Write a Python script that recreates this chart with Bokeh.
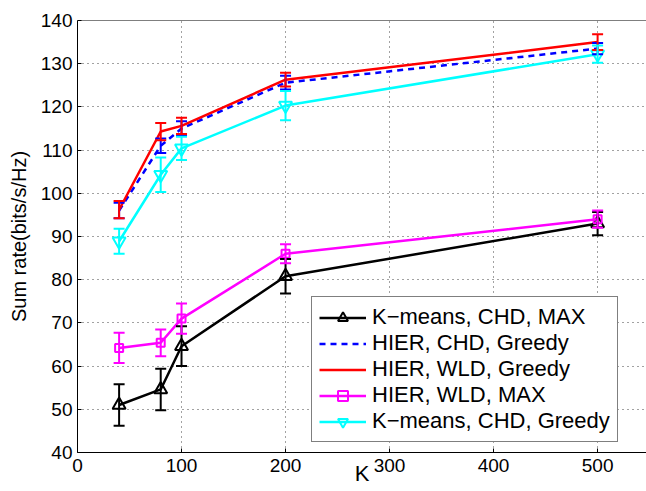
from bokeh.plotting import figure
from bokeh.models import (ColumnDataSource, Whisker, TeeHead, Legend, LegendItem,
                          FixedTicker, Span)
from bokeh.embed import file_html
from bokeh.resources import INLINE

# ---- data ----
K = [40, 80, 100, 200, 500]
x_ticks = [0, 100, 200, 300, 400, 500]
y_ticks = [40, 50, 60, 70, 80, 90, 100, 110, 120, 130, 140]

kmeans_chd_max = [51.0, 54.6, 64.6, 80.8, 93.0]
kmeans_chd_max_err = [4.8, 4.8, 4.6, 4.0, 2.7]

hier_chd_greedy = [96.0, 111.0, 115.0, 125.6, 133.5]
hier_chd_greedy_err = [1.8, 1.7, 1.7, 1.6, 1.3]

hier_wld_greedy = [96.2, 114.3, 115.6, 126.3, 135.0]
hier_wld_greedy_err = [2.0, 2.0, 1.9, 1.6, 1.8]

hier_wld_max = [64.2, 65.4, 71.0, 86.0, 94.0]
hier_wld_max_err = [3.5, 3.1, 3.5, 2.2, 2.0]

kmeans_chd_greedy = [88.9, 104.3, 110.4, 120.3, 132.2]
kmeans_chd_greedy_err = [2.9, 4.0, 2.7, 3.4, 2.0]

labels = ["K\u2212means, CHD, MAX", "HIER, CHD, Greedy", "HIER, WLD, Greedy",
          "HIER, WLD, MAX", "K\u2212means, CHD, Greedy"]

FONT = "Liberation Sans"

p = figure(width=646, height=491, x_range=(0, 547), y_range=(40, 140),
           output_backend="svg", toolbar_location=None,
           min_border_left=77, min_border_right=0, min_border_top=20, min_border_bottom=39)
p.outline_line_color = None
p.background_fill_color = "white"
p.border_fill_color = "white"

for ax in (p.xaxis, p.yaxis):
    ax.axis_line_color = "black"
    ax.axis_line_width = 1
    ax.major_tick_in = 4
    ax.major_tick_out = 0
    ax.minor_tick_line_color = None
    ax.major_tick_line_color = "black"
    ax.major_label_text_font = FONT
    ax.major_label_text_font_size = "19px"
    ax.major_label_text_color = "black"
    ax.axis_label_text_font = FONT
    ax.axis_label_text_font_style = "normal"
    ax.axis_label_text_color = "black"
p.xaxis.ticker = FixedTicker(ticks=x_ticks)
p.yaxis.ticker = FixedTicker(ticks=y_ticks)
p.xaxis.major_label_standoff = 6
p.yaxis.major_label_standoff = 5
p.yaxis.axis_label = "Sum rate(bits/s/Hz)"
p.yaxis.axis_label_text_font_size = "20px"
p.yaxis.axis_label_standoff = 8
p.xaxis.axis_label = "K"
p.xaxis.axis_label_text_font_size = "22px"
p.xaxis.axis_label_standoff = -14

for g in (p.xgrid, p.ygrid):
    g.grid_line_color = "#444444"
    g.grid_line_dash = "1 4"
    g.grid_line_width = 1
p.xgrid.ticker = FixedTicker(ticks=x_ticks)
p.ygrid.ticker = FixedTicker(ticks=y_ticks)

p.add_layout(Span(location=140, dimension="width", line_color="black", line_width=1))

series = [
    (kmeans_chd_max, kmeans_chd_max_err, "#000000", "triangle", 13, None, 2.5),
    (hier_chd_greedy, hier_chd_greedy_err, "#0000ff", None, 0, "6 5", 2.5),
    (hier_wld_greedy, hier_wld_greedy_err, "#ff0000", None, 0, None, 2.5),
    (hier_wld_max, hier_wld_max_err, "#ff00ff", "square", 8, None, 2.5),
    (kmeans_chd_greedy, kmeans_chd_greedy_err, "#00ffff", "inverted_triangle", 13, None, 2.5),
]

items = []
for (vals, errs, col, marker, msize, dash, lw), lab in zip(series, labels):
    src = ColumnDataSource(dict(x=K, y=vals,
                                upper=[v + e for v, e in zip(vals, errs)],
                                lower=[v - e for v, e in zip(vals, errs)]))
    w = Whisker(base="x", upper="upper", lower="lower", source=src,
                line_color=col, line_width=2, level="glyph",
                upper_head=TeeHead(size=11, line_color=col, line_width=2),
                lower_head=TeeHead(size=11, line_color=col, line_width=2))
    p.add_layout(w)
    rends = []
    kw = dict(line_color=col, line_width=lw)
    if dash:
        kw["line_dash"] = dash
    rends.append(p.line("x", "y", source=src, **kw))
    if marker:
        rends.append(p.scatter("x", "y", source=src, marker=marker, size=msize,
                               line_color=col, line_width=2, fill_alpha=0))
    items.append(LegendItem(label=lab, renderers=rends))

legend = Legend(items=items, location=(234, 10))
legend.label_text_font = FONT
legend.label_text_font_size = "22px"
legend.label_text_color = "black"
legend.glyph_width = 47
legend.glyph_height = 25
legend.label_height = 25
legend.label_standoff = 6
legend.padding = 7
legend.spacing = 0
legend.margin = 0
legend.border_line_color = "black"
legend.border_line_width = 1
legend.background_fill_alpha = 1
p.add_layout(legend)

open("out.html", "w").write(file_html(p, INLINE))
